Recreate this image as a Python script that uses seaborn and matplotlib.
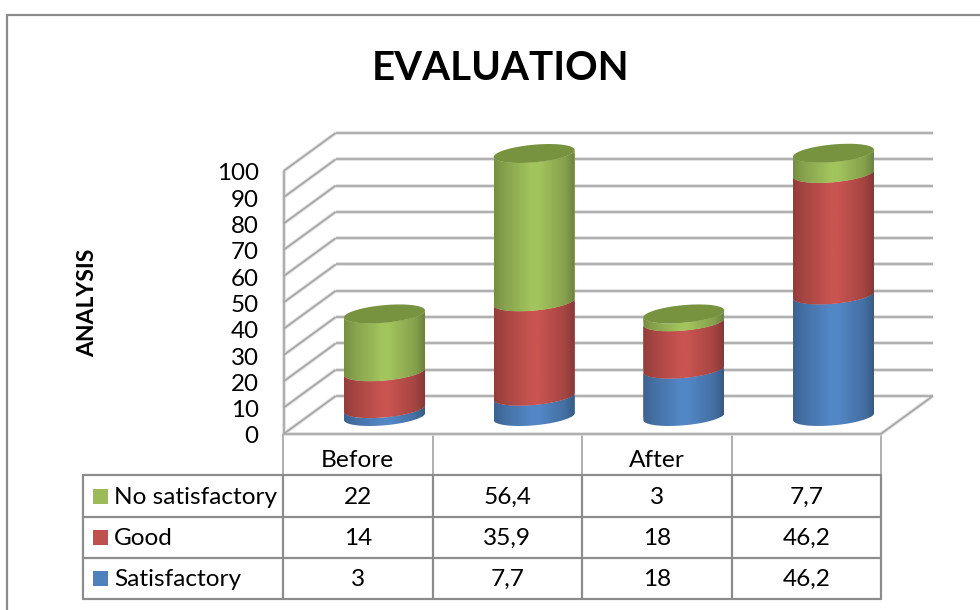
import numpy as np
import pandas as pd
import matplotlib
matplotlib.use("Agg")
import matplotlib.pyplot as plt
from matplotlib.colors import to_rgb
from matplotlib.patches import Polygon, Rectangle
import seaborn as sns

title = "EVALUATION"
y_title = "ANALYSIS"
periods = ["Before", "", "After", ""]
y_ticks = [0, 10, 20, 30, 40, 50, 60, 70, 80, 90, 100]

satisfactory = [3, 7.7, 18, 46.2]
good = [14, 35.9, 18, 46.2]
no_satisfactory = [22, 56.4, 3, 7.7]

# Stacking order runs bottom to top; the table lists the series top to bottom.
stack_order = [("Satisfactory", satisfactory, "#4F81BD"),
               ("Good", good, "#C0504D"),
               ("No satisfactory", no_satisfactory, "#9BBB59")]
cap_color = "#78933F"

W, H = 980, 610
sns.set_theme(style="white")
plt.rcParams["font.family"] = ["Lato", "DejaVu Sans"]
fig = plt.figure(figsize=(W / 100, H / 100), dpi=100, facecolor="white")

# Overlay in pixel units for frame and table rules.
page = fig.add_axes([0, 0, 1, 1], zorder=0)
page.set_xlim(0, W)
page.set_ylim(H, 0)
page.axis("off")

# Plot plane running through the cylinder axes.
ax = fig.add_axes([309.67 / W, 1 - 416.5 / H, 598.67 / W, 263 / H], zorder=1)
ax.patch.set_alpha(0)

frame = pd.DataFrame({"slot": range(len(periods))})
bottom = np.zeros(len(periods))
segments = []
for name, values, color in stack_order:
    frame[name] = values
    n_before = len(ax.patches)
    sns.barplot(data=frame, x="slot", y=name, bottom=bottom, color=color, saturation=1,
                width=0.541, errorbar=None, ax=ax, zorder=3)
    for bar in ax.patches[n_before:]:
        segments.append((bar, color))
    bottom = bottom + np.array(values)

ax.set_xlim(-0.5, 3.5)
ax.set_ylim(0, 100)
ax.axis("off")

# Depth of the 3D box expressed in axis units.
front_dx, front_dy = -0.174, -6.65
back_dx, back_dy = 0.174, 7.8
x_lo, x_hi = -0.5, 3.49
GRID_SOFT, GRID_CORE = "#dcdcdc", "#a3a3a3"
TICK_SIZE = 17.4


def rule(xs, ys, z=1):
    ax.plot(xs, ys, color=GRID_SOFT, lw=2.6, clip_on=False, zorder=z, solid_capstyle="butt")
    ax.plot(xs, ys, color=GRID_CORE, lw=1.1, clip_on=False, zorder=z + 0.1, solid_capstyle="butt")


for tick in y_ticks:
    left_back = x_lo + back_dx
    left_front = x_lo + front_dx
    rule([left_back, x_hi + back_dx], [tick + back_dy] * 2)
    rule([left_front, left_back], [tick + front_dy, tick + back_dy])
    ax.annotate(str(tick), (left_front - 0.167, tick + front_dy), xytext=(0, -3),
                textcoords="offset pixels", ha="right", va="center",
                fontsize=TICK_SIZE, color="black", annotation_clip=False)
rule([x_lo + front_dx] * 2, [front_dy, 100 + front_dy])
rule([x_lo + front_dx, x_hi + front_dx], [front_dy, front_dy])
rule([x_hi + front_dx, x_hi + back_dx], [front_dy, back_dy])

# Elliptical section of each cylinder, slightly tilted by the view angle.
ELLIPSE_B, ELLIPSE_TILT = 3.35, 1.33
t = np.linspace(0, np.pi, 80)


def lower_arc(cx, half, level):
    return cx - half * np.cos(t), level - ELLIPSE_TILT * np.cos(t) - ELLIPSE_B * np.sin(t)


def upper_arc(cx, half, level):
    return cx + half * np.cos(t), level + ELLIPSE_TILT * np.cos(t) + ELLIPSE_B * np.sin(t)


def shade(color):
    base = np.array(to_rgb(color))
    pos = np.linspace(0, 1, 160)
    stops = [0.0, 0.12, 0.47, 0.55, 0.88, 1.0]
    gains = [0.76, 0.86, 1.05, 1.05, 0.86, 0.70]
    gain = np.interp(pos, stops, gains)
    return np.clip(base[None, None, :] * gain[None, :, None], 0, 1)


tops = {}
for bar, color in segments:
    x0, w = bar.get_x(), bar.get_width()
    low, high = bar.get_y(), bar.get_y() + bar.get_height()
    cx, half = x0 + w / 2, w / 2
    xa, ya = lower_arc(cx, half, high)
    xb, yb = lower_arc(cx, half, low)
    outline = np.column_stack([np.r_[xa, xb[::-1]], np.r_[ya, yb[::-1]]])
    shape = Polygon(outline, closed=True, transform=ax.transData)
    bar.set_clip_path(shape)
    bar.set_clip_box(fig.bbox)
    bar.set_linewidth(0)
    im = ax.imshow(shade(color), extent=(x0, x0 + w, low - 6, high + 6), aspect="auto",
                   origin="lower", interpolation="bilinear", zorder=3.5)
    im.set_clip_path(shape)
    im.set_clip_box(fig.bbox)
    tops[round(cx, 3)] = (cx, half, high)

for cx, half, high in tops.values():
    xa, ya = lower_arc(cx, half, high)
    xb, yb = upper_arc(cx, half, high)
    ax.add_patch(Polygon(np.column_stack([np.r_[xa, xb], np.r_[ya, yb]]), closed=True,
                         facecolor=cap_color, edgecolor="none", zorder=4, clip_on=False))

ax.set_xlim(-0.5, 3.5)
ax.set_ylim(0, 100)

# Chart frame, title and axis caption.
LINE = "#8c8c8c"
page.plot([7, 7, W], [H, 15, 15], color=LINE, lw=1.6, solid_joinstyle="miter")
page.text(501, 69, title, ha="center", va="center", fontsize=29, fontweight="bold", color="black")
page.text(88, 303, y_title, ha="center", va="center", rotation=90, fontsize=16.5,
          fontweight="bold", color="black")

# Data table beneath the plot.
col_x = [283, 432.5, 582, 732, 881]
row_y = [475, 517, 558, 599]
TEXT_SIZE = 17.6
for x in col_x:
    page.plot([x, x], [434, 475], color="#a8a8a8", lw=1.3)
for x in [83] + col_x:
    page.plot([x, x], [row_y[0], row_y[-1]], color=LINE, lw=1.6)
for y in row_y:
    page.plot([83, col_x[-1]], [y, y], color=LINE, lw=1.6)

for i, label in enumerate(periods):
    page.text((col_x[i] + col_x[i + 1]) / 2, 460.5, label, ha="center", va="center",
              fontsize=TEXT_SIZE, color="black")

for r, (name, values, color) in enumerate(reversed(stack_order)):
    mid = (row_y[r] + row_y[r + 1]) / 2
    page.add_patch(Rectangle((93, mid - 7.5), 15, 15, facecolor=color, edgecolor="none"))
    page.text(114, mid + 1, name, ha="left", va="center", fontsize=TEXT_SIZE, color="black")
    for c, value in enumerate(values):
        page.text((col_x[c] + col_x[c + 1]) / 2, mid + 1, str(value).replace(".", ","),
                  ha="center", va="center", fontsize=TEXT_SIZE, color="black")

fig.savefig("out.png", dpi=100, facecolor="white")
